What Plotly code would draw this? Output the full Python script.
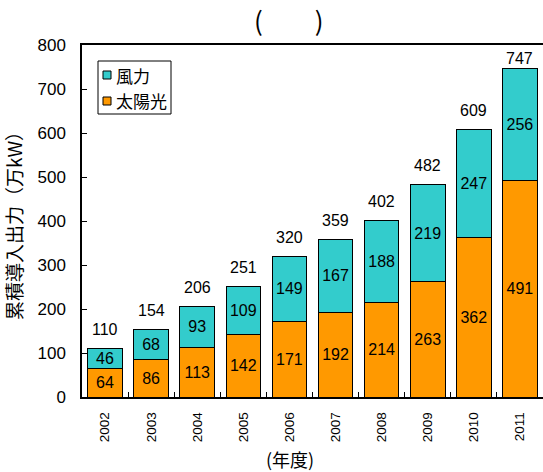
import plotly.graph_objects as go

years = ["2002", "2003", "2004", "2005", "2006", "2007", "2008", "2009", "2010", "2011"]
solar = [64, 86, 113, 142, 171, 192, 214, 263, 362, 491]
wind = [46, 68, 93, 109, 149, 167, 188, 219, 247, 256]
totals = [110, 154, 206, 251, 320, 359, 402, 482, 609, 747]
legend_names = ["風力", "太陽光"]
legend_colors = ["#33CCCC", "#FF9900"]

FONT = "Liberation Sans, Arial, Noto Sans CJK JP"
CJK = "Noto Sans CJK JP"

L, R, T, B = 82, 0, 45, 75
W, H = 543, 472
PW, PH = W - L - R, H - T - B
YMAX = 800


def px(x):
    return (x - L) / PW


def py(y):
    return (H - B - y) / PH


fig = go.Figure()
fig.add_trace(go.Bar(
    x=years, y=solar, name=legend_names[1], showlegend=False,
    marker=dict(color=legend_colors[1], line=dict(color="black", width=1)),
    text=solar, textposition="inside", insidetextanchor="middle", textangle=0,
    constraintext="none",
    textfont=dict(color="black", size=16, family=FONT),
))
fig.add_trace(go.Bar(
    x=years, y=wind, name=legend_names[0], showlegend=False,
    marker=dict(color=legend_colors[0], line=dict(color="black", width=1)),
    text=wind, textposition="inside", insidetextanchor="middle", textangle=0,
    constraintext="none",
    textfont=dict(color="black", size=16, family=FONT),
))

annotations = []
for i, tot in enumerate(totals):
    top_px = T + (YMAX - tot) / YMAX * PH
    shift = min(19, top_px - 58)
    annotations.append(dict(
        x=i, y=tot, xref="x", yref="y", text=str(tot), showarrow=False,
        xanchor="center", yanchor="middle", yshift=shift,
        font=dict(size=16, family=FONT, color="black"),
    ))

shapes = [dict(type="rect", xref="paper", yref="paper",
               x0=px(98), x1=px(171), y0=py(114), y1=py(61),
               line=dict(color="black", width=1), fillcolor="white", layer="above")]
for i, (name, col) in enumerate(zip(legend_names, legend_colors)):
    cy = 75 + i * 26
    shapes.append(dict(type="rect", xref="paper", yref="paper",
                       x0=px(103), x1=px(111), y0=py(cy + 4), y1=py(cy - 4),
                       line=dict(color="black", width=1), fillcolor=col, layer="above"))
    annotations.append(dict(text=name, xref="paper", yref="paper",
                            x=px(114), y=py(cy), xanchor="left", yanchor="middle",
                            showarrow=False, font=dict(size=17, family=CJK)))

annotations.append(dict(
    text="(\u3000\u3000)", xref="paper", yref="paper",
    x=px(289), y=py(20), showarrow=False,
    font=dict(size=26, family=CJK),
    xanchor="center", yanchor="middle",
))
annotations.append(dict(
    text="(年度)", xref="paper", yref="paper",
    x=px(290), y=py(459), showarrow=False,
    font=dict(size=18, family=CJK),
    xanchor="center", yanchor="middle",
))

fig.update_layout(
    width=W, height=H,
    barmode="stack", bargap=0.25,
    plot_bgcolor="white", paper_bgcolor="white",
    margin=dict(l=L, r=R, t=T, b=B),
    font=dict(family=FONT, color="black", size=15),
    showlegend=False,
    xaxis=dict(
        type="category",
        showline=True, linecolor="black", linewidth=1.5, mirror=True,
        ticks="inside", ticklen=5, tickcolor="black",
        tickson="boundaries", tickangle=-90, ticklabelstandoff=8,
        tickfont=dict(size=13.5, family=FONT),
    ),
    yaxis=dict(
        range=[0, YMAX], dtick=100,
        showline=True, linecolor="black", linewidth=1.5,
        ticks="inside", ticklen=5, tickcolor="black",
        showgrid=False, zeroline=False, ticklabelstandoff=11,
        tickfont=dict(size=17, family=FONT),
        title=dict(text="累積導入出力（万kW）", font=dict(size=19, family=CJK), standoff=10),
    ),
    shapes=shapes,
    annotations=annotations,
)

fig.write_html("out.html")
